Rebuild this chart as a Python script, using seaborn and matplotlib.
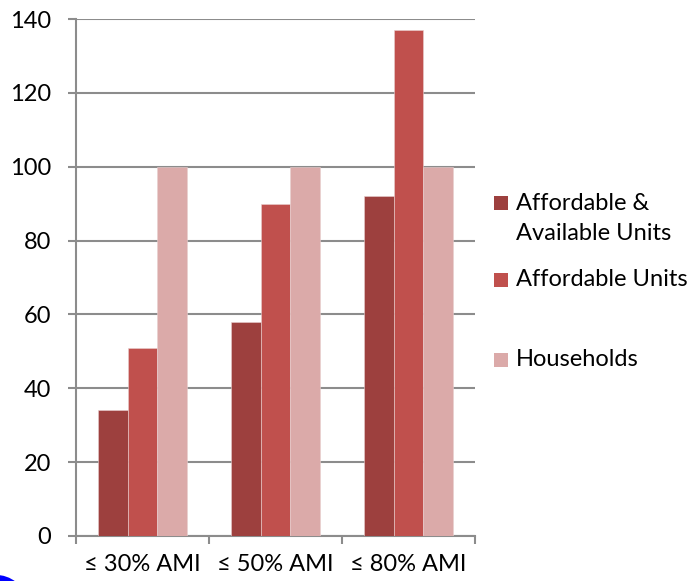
import matplotlib
matplotlib.use("Agg")
import matplotlib.pyplot as plt
from matplotlib.patches import Circle, Rectangle
from matplotlib.ticker import FixedLocator
import seaborn as sns
import pandas as pd

# Income brackets and the three measures per bracket
categories = ["≤ 30% AMI", "≤ 50% AMI", "≤ 80% AMI"]
series = ["Affordable &\nAvailable Units", "Affordable Units", "Households"]
affordable_available = [34, 58, 92]
affordable_units = [51, 90, 137]
households = [100, 100, 100]
y_ticks = [0, 20, 40, 60, 80, 100, 120, 140]

palette = ["#9D403E", "#C0504D", "#DBAAA9"]
grid_gray = "#8C8C8C"
font_size = 17

rows = []
for name, values in zip(series, [affordable_available, affordable_units, households]):
    for cat, v in zip(categories, values):
        rows.append({"bracket": cat, "measure": name, "value": v})
df = pd.DataFrame(rows)

sns.set_theme(style="white")
plt.rcParams["font.family"] = ["Lato", "DejaVu Sans"]

fig = plt.figure(figsize=(6.92, 5.81), dpi=100)
ax = fig.add_axes([76 / 692, 1 - 536 / 581, 399 / 692, 517 / 581])

sns.barplot(data=df, x="bracket", y="value", hue="measure", order=categories,
            hue_order=series, palette=palette, width=0.667, saturation=1,
            edgecolor="#E8CFCF", linewidth=0.4, legend=False, ax=ax, zorder=3)

ax.set_xlim(-0.5, 2.5)
ax.set_ylim(0, 140)
ax.set_yticks(y_ticks)
ax.yaxis.grid(True, color=grid_gray, linewidth=1.5, zorder=0)
ax.set_axisbelow(True)
ax.set_xlabel("")
ax.set_ylabel("")

for side in ["top", "right"]:
    ax.spines[side].set_visible(False)
for side in ["left", "bottom"]:
    ax.spines[side].set_color(grid_gray)
    ax.spines[side].set_linewidth(1.5)

ax.tick_params(axis="y", which="major", length=6, width=1.5, color=grid_gray,
               labelsize=font_size, pad=12, left=True, labelcolor="black")
ax.tick_params(axis="x", which="major", length=0, labelsize=font_size, pad=13,
               labelcolor="black")
ax.xaxis.set_minor_locator(FixedLocator([-0.5, 0.5, 1.5, 2.5]))
ax.tick_params(axis="x", which="minor", length=6, width=1.5, color=grid_gray,
               bottom=True)

# Legend: colour swatch with label, one entry per measure
entry_y = [203, 280, 360]
for name, color, y in zip(series, palette, entry_y):
    fig.patches.append(Rectangle((494 / 692, 1 - (y + 7) / 581), 14 / 692, 14 / 581,
                                 transform=fig.transFigure, facecolor=color,
                                 edgecolor="none", figure=fig))
    lines = name.split("\n")
    for i, line in enumerate(lines):
        fig.text(516 / 692, 1 - (y + i * 30) / 581, line, fontsize=font_size,
                 va="center", ha="left", color="black")

# Blue badge in the lower-left corner
fig.patches.append(Circle((-5 / 692, 1 - 600 / 581), 30 / 692,
                          transform=fig.transFigure, facecolor="#0000FF",
                          edgecolor="none", figure=fig))

fig.savefig("out.png", dpi=100)
